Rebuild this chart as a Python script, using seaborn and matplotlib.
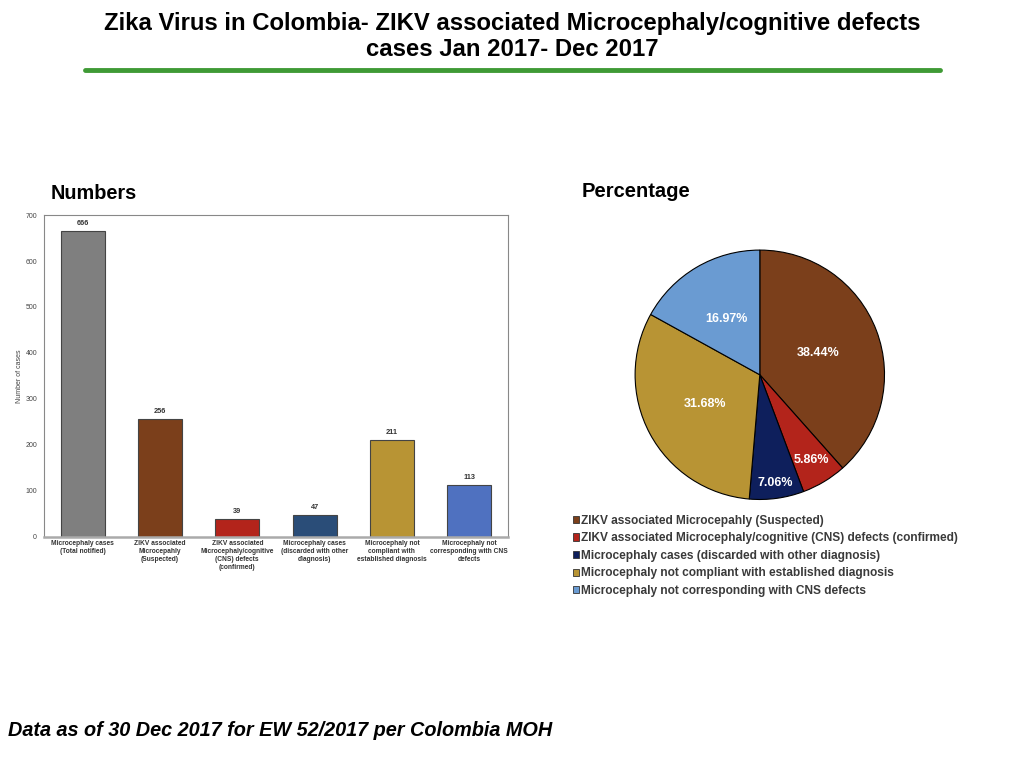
import numpy as np
import pandas as pd
import seaborn as sns
import matplotlib.pyplot as plt
from matplotlib.patches import Patch

# data
bar_labels = ['Microcephaly cases\n(Total notified)',
              'ZIKV associated\nMicrocepahly\n(Suspected)',
              'ZIKV associated\nMicrocephaly/cognitive\n(CNS) defects\n(confirmed)',
              'Microcephaly cases\n(discarded with other\ndiagnosis)',
              'Microcephaly not\ncompliant with\nestablished diagnosis',
              'Microcephaly not\ncorresponding with CNS\ndefects']
bar_values = [666, 256, 39, 47, 211, 113]
bar_colors = ['#7f7f7f', '#7b3f1b', '#b3241b', '#2a4d78', '#b89434', '#4f71c0']

pie_labels = ['ZIKV associated Microcepahly (Suspected)',
              'ZIKV associated Microcephaly/cognitive (CNS) defects (confirmed)',
              'Microcephaly cases (discarded with other diagnosis)',
              'Microcephaly not compliant with established diagnosis',
              'Microcephaly not corresponding with CNS defects']
pie_values = [256, 39, 47, 211, 113]
pie_colors = ['#7b3f1b', '#b3241b', '#0e1f5c', '#b89434', '#6a9bd2']
pct_radius = [0.5, 0.8, 0.88, 0.5, 0.52]  # where each % label sits

sns.set_theme(style="white")
plt.rcParams['font.family'] = ['Liberation Sans', 'DejaVu Sans']

fig = plt.figure(figsize=(10.24, 7.68), dpi=100)
fig.patch.set_facecolor('white')

# title + green rule
fig.text(0.5, 0.985, 'Zika Virus in Colombia- ZIKV associated Microcephaly/cognitive defects\ncases Jan 2017- Dec 2017',
         ha='center', va='top', fontsize=17.2, fontweight='bold', linespacing=1.2, color='black')
fig.add_artist(plt.Line2D([0.083, 0.918], [0.909, 0.909], color='#3f9a35', lw=3.5))

fig.text(0.049, 0.748, 'Numbers', fontsize=14.3, fontweight='bold', va='center', color='black')
fig.text(0.568, 0.751, 'Percentage', fontsize=14.5, fontweight='bold', va='center', color='black')

# bar chart
df = pd.DataFrame({'label': bar_labels, 'value': bar_values})
ax = fig.add_axes([0.043, 0.301, 0.453, 0.419])
sns.barplot(data=df, x='label', y='value', hue='label', palette=bar_colors, legend=False,
            saturation=1, width=0.57, edgecolor='#444444', linewidth=0.8, ax=ax)
for i, v in enumerate(bar_values):
    ax.text(i, v + 9, str(v), ha='center', va='bottom', fontsize=5.3, fontweight='bold', color='#333333')
ax.set_ylim(0, 700)
ax.set_yticks(range(0, 701, 100))
ax.set_xlim(-0.5, len(bar_values) - 0.5)
ax.set_xlabel('')
ax.set_ylabel('Number of cases', fontsize=5, color='#444444', labelpad=2)
ax.tick_params(axis='x', labelsize=4.8, length=0, pad=2, labelcolor='#333333')
ax.tick_params(axis='y', labelsize=5, length=0, pad=5, labelcolor='#444444')
for lbl in ax.get_xticklabels():
    lbl.set_fontweight('bold')
for s in ax.spines.values():
    s.set_color('#888888')
    s.set_linewidth(0.8)
ax.spines['bottom'].set_color('#aaaaaa')
ax.spines['bottom'].set_linewidth(1.8)

# pie chart
pax = fig.add_axes([0.619, 0.348, 0.246, 0.328])
wedges, texts, autotexts = pax.pie(pie_values, colors=pie_colors, startangle=90, counterclock=False,
                                   autopct='%1.2f%%', pctdistance=0.5,
                                   wedgeprops=dict(edgecolor='black', linewidth=0.8),
                                   textprops=dict(color='white', fontsize=9, fontweight='bold'))
for w, t, r in zip(wedges, autotexts, pct_radius):
    ang = np.deg2rad((w.theta1 + w.theta2) / 2)
    t.set_position((r * np.cos(ang), r * np.sin(ang)))
pax.set_xlim(-1.01, 1.01)
pax.set_ylim(-1.01, 1.01)
pax.set_aspect('equal')

handles = [Patch(facecolor=c, edgecolor='#333333', linewidth=0.6) for c in pie_colors]
leg = fig.legend(handles, pie_labels, loc='upper left', bbox_to_anchor=(0.549, 0.344), frameon=False,
                 fontsize=8.6, handlelength=0.55, handleheight=0.55, handletextpad=0.15,
                 labelspacing=0.47, labelcolor='#3a3a3a')
for t in leg.get_texts():
    t.set_fontweight('bold')

fig.text(0.008, 0.049, 'Data as of 30 Dec 2017 for EW 52/2017 per Colombia MOH',
         fontsize=14.3, fontweight='bold', fontstyle='italic', va='center', color='black')

plt.savefig('out.png', dpi=100, facecolor='white')
